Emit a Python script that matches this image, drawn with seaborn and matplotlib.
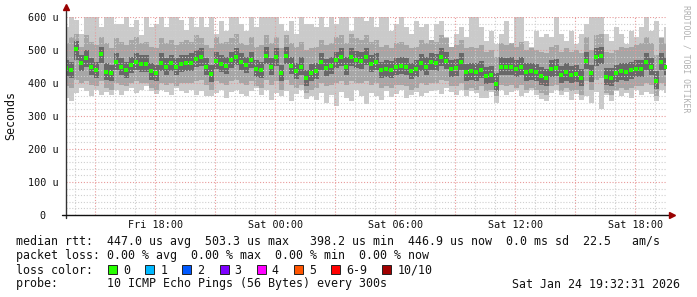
import numpy as np
import pandas as pd
import matplotlib
matplotlib.use("Agg")
import matplotlib.pyplot as plt
import seaborn as sns
from matplotlib.patches import Rectangle

# ---------------- data (microseconds, one value per 15 min, Fri 13:32 -> Sat 19:32) -------------
median_us = [445,440,503,460,475,449,440,488,432,430,465,448,440,455,465,458,459,435,430,462,450,460,448,458,460,
             462,473,478,448,427,468,458,453,469,480,463,455,470,443,440,483,448,478,430,483,453,437,450,415,
             430,437,463,445,452,470,478,450,478,470,468,480,458,465,440,443,440,448,452,448,436,443,460,450,
             463,460,478,468,443,445,465,432,435,432,440,422,425,398,450,448,450,443,450,432,435,432,420,415,
             442,445,425,432,425,427,415,468,429,478,483,419,416,429,435,432,438,443,443,465,448,407,463,450]
ping_max = [570,610,590,550,610,610,610,570,610,605,580,580,610,570,590,545,610,570,580,610,570,610,610,590,560,
            610,569,599,569,610,548,589,558,610,610,579,558,610,569,610,610,610,610,579,558,589,548,610,579,
            580,569,610,569,610,579,610,610,558,610,610,589,610,569,610,599,558,579,610,569,548,589,569,579,
            528,579,589,538,508,548,569,538,610,610,569,528,558,518,548,589,518,599,610,528,508,558,538,548,
            538,610,548,528,558,518,548,579,610,610,599,548,528,569,548,518,558,538,569,610,558,589,538,569]
ping_min = [355,345,370,385,375,360,380,365,372,365,380,365,375,385,370,380,390,375,368,380,372,365,385,375,370,
            380,365,375,360,362,370,380,355,372,380,368,360,375,385,365,378,350,370,362,375,345,368,380,352,
            360,350,370,340,365,330,372,355,345,378,360,335,370,362,350,375,358,368,380,355,365,372,360,370,
            375,380,368,385,372,365,380,360,375,370,355,355,372,340,378,365,372,380,360,370,378,365,352,345,
            370,380,365,372,350,368,350,360,340,372,320,365,345,375,360,370,355,380,365,372,368,345,380,370]
mid_hi = [520,540,550,510,545,525,515,540,520,505,535,525,515,530,540,520,525,510,505,535,520,530,515,525,530,
          525,545,535,515,505,540,520,525,535,550,520,515,540,510,515,545,520,540,505,545,520,510,525,500,
          505,510,530,515,520,540,545,520,550,535,530,545,525,530,510,515,505,520,525,515,505,510,530,520,
          530,525,545,535,510,515,530,505,510,505,515,495,500,480,520,515,520,510,525,500,505,500,495,490,
          510,515,495,505,495,500,490,540,500,545,550,495,490,500,510,505,510,515,520,540,520,485,535,520]
mid_lo = [390,385,410,400,405,395,390,405,385,380,400,395,390,400,405,400,400,385,380,400,395,400,390,400,400,
          400,405,410,395,380,405,400,395,405,410,400,395,405,390,385,410,395,405,380,410,395,385,395,370,
          380,385,400,390,395,400,405,395,405,400,400,405,395,400,385,390,385,395,395,390,380,385,400,395,
          400,400,410,405,390,390,400,380,385,380,390,375,380,360,395,390,395,385,395,380,385,380,370,365,
          390,395,375,385,375,380,365,405,380,410,415,370,365,380,385,380,385,390,390,400,395,360,400,390]
core_hi = [470,465,528,485,500,475,465,510,460,455,490,475,465,480,490,485,485,460,455,490,475,485,475,485,485,
           490,500,505,475,455,495,485,480,495,505,490,480,495,470,465,508,475,505,455,508,480,462,478,440,
           458,462,490,472,480,495,505,478,505,498,495,505,485,492,465,470,468,475,480,475,462,470,488,478,
           490,488,505,495,470,472,492,458,462,460,468,450,452,430,478,475,478,470,478,460,462,458,448,442,
           470,472,452,460,452,455,442,495,456,505,510,446,444,456,462,460,465,470,470,492,475,435,490,478]
core_lo = [420,415,470,435,450,425,415,462,408,405,440,423,415,430,440,433,434,410,405,437,425,435,423,433,435,
           437,448,452,423,402,443,433,428,444,455,438,430,445,418,415,458,423,453,405,458,428,412,425,392,
           405,412,438,420,427,445,453,425,453,445,443,455,433,440,415,418,415,423,427,423,411,418,435,425,
           438,435,453,443,418,420,440,407,410,407,415,397,400,375,425,423,425,418,425,407,410,407,395,390,
           417,420,400,407,400,402,390,443,404,453,458,394,391,404,410,407,413,418,418,440,423,382,438,425]

start_time = pd.Timestamp("2026-01-23 13:32:31")
end_time = pd.Timestamp("2026-01-24 19:32:31")
x_label_times = ["2026-01-23 18:00", "2026-01-24 00:00", "2026-01-24 06:00",
                 "2026-01-24 12:00", "2026-01-24 18:00"]
x_labels = ["Fri 18:00", "Sat 00:00", "Sat 06:00", "Sat 12:00", "Sat 18:00"]
y_ticks = [0, 100, 200, 300, 400, 500, 600]
y_labels = ["0  ", "100 u", "200 u", "300 u", "400 u", "500 u", "600 u"]

legend_rows = [
    "median rtt:  447.0 us avg  503.3 us max   398.2 us min  446.9 us now  0.0 ms sd  22.5   am/s",
    "packet loss: 0.00 % avg  0.00 % max  0.00 % min  0.00 % now",
]
loss_labels = ["0", "1", "2", "3", "4", "5", "6-9", "10/10"]
loss_colors = ["#26ff00", "#00b8ff", "#0059ff", "#7e00ff", "#ff00ff", "#ff5500", "#ff0000", "#a10000"]
probe_text = "probe:       10 ICMP Echo Pings (56 Bytes) every 300s"
stamp_text = "Sat Jan 24 19:32:31 2026"

# ---------------- figure ----------------
W, H = 697, 297
sns.set_style("white")
plt.rcParams['font.family'] = ['DejaVu Sans Mono']

fig = plt.figure(figsize=(W / 100, H / 100), dpi=100)
fig.patch.set_facecolor("white")
ax = fig.add_axes([66 / W, 1 - 215 / H, 600 / W, 198 / H])

hours = np.arange(len(median_us)) * 0.25
ax.fill_between(hours, ping_min, ping_max, step="mid", color="#cacaca", lw=0, zorder=1.0)
ax.fill_between(hours, mid_lo, mid_hi, step="mid", color="#a6a6a6", lw=0, zorder=1.1)
ax.fill_between(hours, core_lo, core_hi, step="mid", color="#686868", lw=0, zorder=1.2)

df = pd.DataFrame({"h": hours, "median": median_us})
sns.scatterplot(data=df, x="h", y="median", marker="s", s=7, color="#22ff00",
                linewidth=0, ax=ax, zorder=5, legend=False)

total_h = (end_time - start_time) / pd.Timedelta(hours=1)
ax.set_xlim(0, total_h)
ax.set_ylim(0, 600)


def hrs(t):
    return (pd.Timestamp(t) - start_time) / pd.Timedelta(hours=1)


first_hour = start_time.ceil("h")
minor_x = [hrs(first_hour + pd.Timedelta(hours=k)) for k in range(31)]
minor_x = [h for h in minor_x if h < total_h]
ref18 = hrs("2026-01-23 18:00")
major_x = [h for h in minor_x if round(h - ref18) % 3 == 0]
label_pos = [hrs(t) for t in x_label_times]
lab = []
for h in major_x:
    m = [x_labels[i] for i, p in enumerate(label_pos) if abs(h - p) < 1e-6]
    lab.append(m[0] if m else "")
ax.set_xticks(major_x)
ax.set_xticklabels(lab)
ax.set_xticks(minor_x, minor=True)
ax.set_yticks(y_ticks)
ax.set_yticklabels(y_labels)
ax.set_yticks(np.arange(0, 601, 20), minor=True)

ax.set_axisbelow(False)
ax.grid(which="minor", color="#cfcfcf", linestyle=(0, (1, 1.6)), linewidth=0.8)
ax.grid(which="major", color="#e89a9a", linestyle=(0, (1, 1.6)), linewidth=0.8)

ax.tick_params(axis="x", which="both", length=0, pad=3.5, labelsize=7.3, colors="#111111")
ax.tick_params(axis="y", which="major", length=3, width=0.8, pad=2.2, labelsize=7.3,
               colors="#111111", direction="out")
ax.tick_params(axis="y", which="minor", length=0)
for s in ax.spines.values():
    s.set_visible(False)
ax.set_xlabel("")
ax.set_ylabel("")

# axes lines with arrows
ax.plot([0, 0], [-3 / 198, 1 + 6 / 198], transform=ax.transAxes, color="#333333", lw=1, clip_on=False, zorder=6)
ax.plot([-4 / 600, 1 + 4 / 600], [0, 0], transform=ax.transAxes, color="#111111", lw=1, clip_on=False, zorder=6)
ax.plot([0], [1 + 10 / 198], transform=ax.transAxes, marker="^", markersize=4.2, color="#9a0000",
        clip_on=False, zorder=7)
ax.plot([1 + 6 / 600], [0], transform=ax.transAxes, marker=">", markersize=4.2, color="#9a0000",
        clip_on=False, zorder=7)


def P(x, y):
    return x / W, 1 - y / H


fig.text(*P(11, 116), "Seconds", rotation=90, ha="center", va="center", fontsize=8.4, color="#111111")
fig.text(*P(686, 5), "RRDTOOL / TOBI OETIKER", rotation=270, ha="center", va="top",
         fontsize=5.9, color="#b0b0b0")

fs = 8.4
fig.text(*P(16, 245.5), legend_rows[0], ha="left", va="baseline", fontsize=fs, color="#111111")
fig.text(*P(16, 259.5), legend_rows[1], ha="left", va="baseline", fontsize=fs, color="#111111")
fig.text(*P(16, 273.5), "loss color:", ha="left", va="baseline", fontsize=fs, color="#111111")
box_x = [108, 145.2, 182.4, 219.6, 256.8, 294.0, 331.2, 382.4]
for bx, lbl, col in zip(box_x, loss_labels, loss_colors):
    x0, y0 = P(bx, 273.5)
    fig.patches.append(Rectangle((x0, y0), 9 / W, 9 / H, transform=fig.transFigure,
                                 facecolor=col, edgecolor="#222222", lw=0.7))
    fig.text(*P(bx + 15, 273.5), lbl, ha="left", va="baseline", fontsize=fs, color="#111111")
fig.text(*P(16, 287.5), probe_text, ha="left", va="baseline", fontsize=fs, color="#111111")
fig.text(*P(680, 287.5), stamp_text, ha="right", va="baseline", fontsize=fs, color="#111111")

fig.savefig("out.png", dpi=100, facecolor="white")
